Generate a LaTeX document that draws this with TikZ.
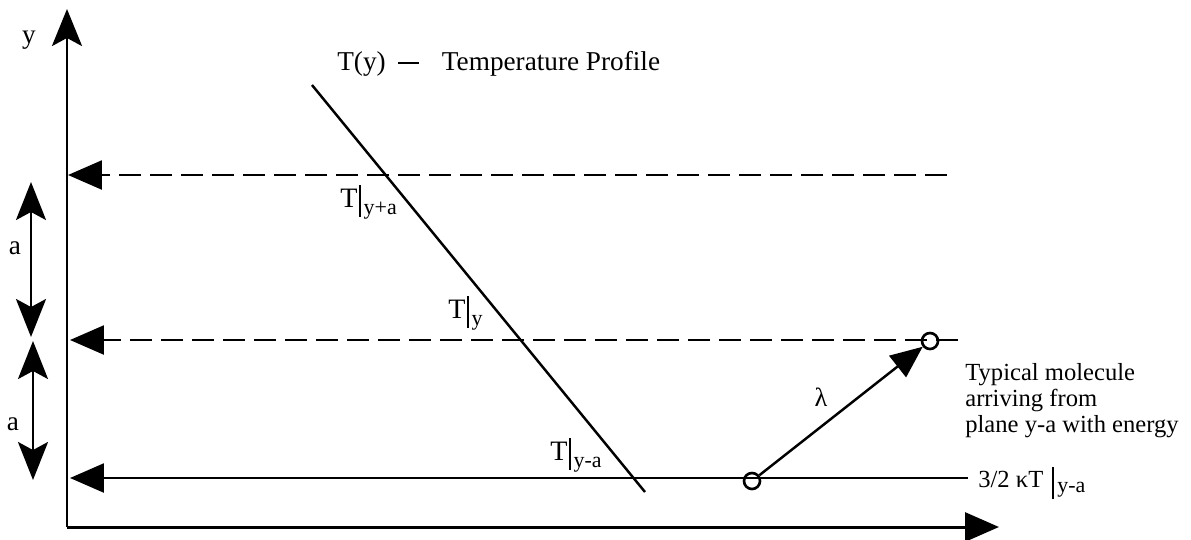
\documentclass[tikz,border=0pt]{standalone}
\usepackage{fontspec}
\setmainfont{Liberation Serif}
\usetikzlibrary{arrows.meta}
\newcommand{\Tsub}[1]{{\fontsize{16}{16}\selectfont T}\kern1pt\rule[-5.5pt]{1pt}{18pt}\kern1.5pt\raisebox{-4pt}{\fontsize{12.5}{12.5}\selectfont #1}}
\begin{document}
\begin{tikzpicture}[x=0.02cm,y=-0.02cm,
  axis/.style={line width=1.7pt},
  plane/.style={line width=1.4pt},
  dplane/.style={plane,dash pattern=on 0.44cm off 0.18cm},
  lefthead/.style={-{Triangle[length=0.68cm,width=0.58cm]}},
  sthead/.style={-{Stealth[length=0.74cm,width=0.6cm,inset=0.16cm]}},
  dblhead/.style={{Stealth[length=0.76cm,width=0.6cm,inset=0.16cm]}-{Stealth[length=0.76cm,width=0.6cm,inset=0.16cm]}},
  txt/.style={inner sep=0pt,font=\fontsize{14}{14.8}\selectfont},
  mol/.style={circle,draw,line width=1.5pt,minimum size=0.32cm,inner sep=0pt}]
\useasboundingbox (0,0) rectangle (1191,539);
% axes
\coordinate (O) at (67,527);
\coordinate (ytip) at (67,9);
\coordinate (xtip) at (999,527);
\draw[axis,sthead] (O) -- (ytip);
\draw[axis,-{Triangle[length=0.68cm,width=0.58cm]}] (O) -- (xtip);
\node[txt,font=\fontsize{15.5}{15.5}\selectfont] (ylab) at (29,40) {y};
% planes
\coordinate (d1r) at (947,175);
\coordinate (d1l) at (68,175);
\coordinate (d2r) at (958,340);
\coordinate (d2l) at (70,340);
\coordinate (d3r) at (968,478);
\coordinate (d3l) at (70,478);
\draw[dplane,lefthead] (d1r) -- (d1l);
\draw[dplane,lefthead] (d2r) -- (d2l);
\draw[plane,lefthead] (d3r) -- (d3l);
% spacing arrows
\coordinate (a1t) at (31,182);
\coordinate (a1b) at (31,337);
\coordinate (a2t) at (33,341);
\coordinate (a2b) at (33,480);
\draw[plane,dblhead] (a1t) -- (a1b);
\draw[plane,dblhead] (a2t) -- (a2b);
\node[txt,font=\fontsize{15.5}{15.5}\selectfont] (la1) at (15,248) {a};
\node[txt,font=\fontsize{15.5}{15.5}\selectfont] (la2) at (13,424) {a};
% temperature profile
\coordinate (p1) at (312,85);
\coordinate (p2) at (645,492);
\draw[plane] (p1) -- (p2);
\node[txt,anchor=base west,font=\fontsize{15.5}{15.5}\selectfont] (title) at (337,70)
  {T(y)\hspace{7pt}\rule[3.2pt]{12pt}{1.1pt}\hspace{13pt}Temperature Profile};
\node[txt,anchor=base west] (Tya) at (340,207) {\Tsub{y+a}};
\node[txt,anchor=base west] (Ty) at (448,318) {\Tsub{y}};
\node[txt,anchor=base west] (Tym) at (550,460) {\Tsub{y-a}};
% molecule
\node[mol] (m1) at (752,481) {};
\node[mol] (m2) at (930,341) {};
\draw[plane,-{Triangle[length=0.64cm,width=0.54cm]}] (m1) -- (m2);
\node[txt,font=\fontsize{15}{15}\selectfont] (lam) at (821,397) {λ};
\node[txt,anchor=north west,align=left] (desc) at (965,363)
  {Typical molecule\\arriving from\\plane y-a with energy};
\node[txt,anchor=base west] (energy) at (978,487)
  {3/2 κT\kern5pt\rule[-7pt]{1pt}{18.5pt}\kern2pt\raisebox{-3pt}{\fontsize{12.5}{12.5}\selectfont y-a}};
\end{tikzpicture}
\end{document}
